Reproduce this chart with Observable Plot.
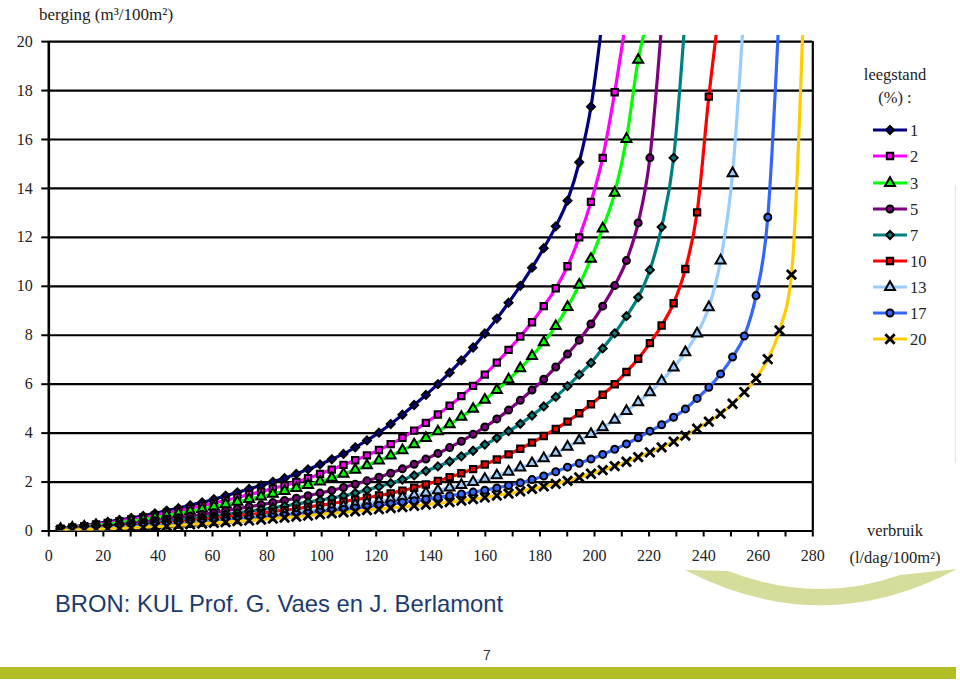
<!DOCTYPE html>
<html>
<head>
<meta charset="utf-8">
<script src="https://cdn.jsdelivr.net/npm/d3@7"></script>
<script src="https://cdn.jsdelivr.net/npm/@observablehq/plot@0.6"></script>
<style>
  html, body { margin: 0; padding: 0; background: #fff; }
  #chart { position: relative; width: 960px; height: 681px; overflow: hidden; }
</style>
</head>
<body>
<div id="chart"></div>
<script>
// ---- data ----
// shared x positions of the markers (verbruik, l/dag/100m2)
const verbruik = [4.3, 8.6, 13.0, 17.3, 21.6, 25.9, 30.2, 34.6, 38.9, 43.2, 47.5, 51.8, 56.2, 60.5, 64.8, 69.1, 73.4, 77.8, 82.1, 86.4, 90.7, 95.0, 99.4, 103.7, 108.0, 112.3, 116.6, 121.0, 125.3, 129.6, 133.9, 138.2, 142.6, 146.9, 151.2, 155.5, 159.8, 164.2, 168.5, 172.8, 177.1, 181.4, 185.8, 190.1, 194.4, 198.7, 203.0, 207.4, 211.7, 216.0, 220.3, 224.6, 229.0, 233.3, 237.6, 241.9, 246.2, 250.6, 254.9, 259.2, 263.5, 267.8, 272.2, 276.5];

// berging (m3/100m2) per leegstand series
const berging1 = [0.10, 0.17, 0.23, 0.30, 0.37, 0.45, 0.53, 0.62, 0.72, 0.83, 0.93, 1.05, 1.17, 1.30, 1.44, 1.58, 1.72, 1.86, 2.01, 2.16, 2.33, 2.52, 2.72, 2.93, 3.15, 3.42, 3.70, 4.02, 4.37, 4.75, 5.15, 5.56, 6.00, 6.47, 6.97, 7.50, 8.07, 8.68, 9.33, 10.02, 10.76, 11.56, 12.45, 13.50, 15.07, 17.34, 21.0];
const berging2 = [0.09, 0.15, 0.20, 0.27, 0.33, 0.40, 0.47, 0.55, 0.64, 0.74, 0.83, 0.93, 1.03, 1.14, 1.25, 1.37, 1.49, 1.61, 1.73, 1.86, 2.00, 2.16, 2.33, 2.51, 2.70, 2.89, 3.09, 3.31, 3.55, 3.81, 4.10, 4.42, 4.76, 5.12, 5.51, 5.93, 6.39, 6.88, 7.40, 7.95, 8.53, 9.19, 9.92, 10.82, 12.00, 13.45, 15.25, 17.93, 21.0];
const berging3 = [0.08, 0.13, 0.17, 0.23, 0.28, 0.34, 0.40, 0.47, 0.55, 0.63, 0.71, 0.80, 0.89, 0.99, 1.09, 1.19, 1.30, 1.41, 1.52, 1.63, 1.75, 1.88, 2.02, 2.17, 2.33, 2.50, 2.68, 2.88, 3.08, 3.30, 3.54, 3.80, 4.07, 4.36, 4.66, 4.99, 5.36, 5.76, 6.19, 6.65, 7.15, 7.71, 8.37, 9.15, 10.06, 11.12, 12.36, 13.82, 16.02, 19.25, 21.2];
const berging5 = [0.06, 0.10, 0.13, 0.17, 0.21, 0.26, 0.31, 0.36, 0.42, 0.48, 0.54, 0.61, 0.68, 0.75, 0.83, 0.91, 0.99, 1.07, 1.16, 1.25, 1.34, 1.44, 1.55, 1.66, 1.78, 1.91, 2.05, 2.20, 2.36, 2.54, 2.73, 2.94, 3.17, 3.41, 3.67, 3.95, 4.25, 4.58, 4.94, 5.34, 5.76, 6.20, 6.70, 7.23, 7.80, 8.46, 9.19, 10.03, 11.05, 12.59, 15.25, 20.7];
const berging7 = [0.05, 0.08, 0.11, 0.14, 0.17, 0.21, 0.25, 0.29, 0.34, 0.39, 0.44, 0.49, 0.55, 0.61, 0.68, 0.74, 0.81, 0.88, 0.95, 1.02, 1.10, 1.18, 1.26, 1.35, 1.44, 1.55, 1.68, 1.81, 1.95, 2.10, 2.27, 2.45, 2.64, 2.84, 3.05, 3.28, 3.53, 3.80, 4.08, 4.38, 4.72, 5.09, 5.48, 5.92, 6.39, 6.87, 7.46, 8.08, 8.78, 9.55, 10.67, 12.42, 15.25, 21.1];
const berging10 = [0.04, 0.07, 0.09, 0.12, 0.14, 0.18, 0.21, 0.24, 0.28, 0.32, 0.36, 0.41, 0.46, 0.51, 0.56, 0.62, 0.67, 0.73, 0.79, 0.85, 0.91, 0.98, 1.05, 1.12, 1.20, 1.28, 1.36, 1.45, 1.54, 1.65, 1.77, 1.90, 2.05, 2.20, 2.36, 2.53, 2.72, 2.92, 3.13, 3.36, 3.61, 3.88, 4.17, 4.47, 4.81, 5.18, 5.57, 6.00, 6.50, 7.04, 7.68, 8.40, 9.31, 10.71, 13.02, 17.75, 21.7];
const berging13 = [0.03, 0.05, 0.07, 0.10, 0.12, 0.15, 0.17, 0.20, 0.23, 0.27, 0.30, 0.34, 0.38, 0.42, 0.47, 0.51, 0.56, 0.61, 0.66, 0.71, 0.77, 0.82, 0.88, 0.94, 1.00, 1.07, 1.14, 1.21, 1.29, 1.37, 1.46, 1.56, 1.66, 1.77, 1.88, 2.00, 2.13, 2.27, 2.42, 2.59, 2.77, 2.97, 3.19, 3.44, 3.70, 3.96, 4.23, 4.54, 4.90, 5.26, 5.67, 6.13, 6.68, 7.30, 8.07, 9.14, 11.05, 14.62, 21.5];
const berging17 = [0.03, 0.05, 0.06, 0.08, 0.10, 0.13, 0.15, 0.18, 0.21, 0.24, 0.27, 0.30, 0.34, 0.38, 0.42, 0.46, 0.50, 0.54, 0.58, 0.63, 0.68, 0.73, 0.78, 0.83, 0.88, 0.94, 0.99, 1.05, 1.11, 1.17, 1.24, 1.30, 1.37, 1.44, 1.51, 1.59, 1.67, 1.76, 1.86, 1.97, 2.10, 2.25, 2.42, 2.61, 2.77, 2.94, 3.13, 3.34, 3.56, 3.81, 4.08, 4.34, 4.65, 4.99, 5.42, 5.87, 6.42, 7.11, 7.97, 9.62, 12.82, 21.5];
const berging20 = [0.02, 0.04, 0.05, 0.07, 0.09, 0.11, 0.13, 0.15, 0.18, 0.20, 0.23, 0.27, 0.30, 0.33, 0.36, 0.40, 0.43, 0.47, 0.51, 0.55, 0.59, 0.63, 0.68, 0.72, 0.76, 0.80, 0.85, 0.89, 0.94, 0.98, 1.03, 1.08, 1.13, 1.18, 1.24, 1.30, 1.37, 1.45, 1.53, 1.62, 1.72, 1.82, 1.93, 2.05, 2.19, 2.34, 2.49, 2.65, 2.83, 3.02, 3.21, 3.42, 3.65, 3.90, 4.18, 4.47, 4.80, 5.20, 5.68, 6.24, 7.02, 8.20, 10.48, 21.0];

const leegstand = ["1", "2", "3", "5", "7", "10", "13", "17", "20"];
const seriesValues = [berging1, berging2, berging3, berging5, berging7, berging10, berging13, berging17, berging20];
const yTicks = [0, 2, 4, 6, 8, 10, 12, 14, 16, 18, 20];
const xTicks = [0, 10, 20, 30, 40, 50, 60, 70, 80, 90, 100, 110, 120, 130, 140, 150, 160, 170, 180, 190, 200, 210, 220, 230, 240, 250, 260, 270, 280];
const xLabels = [0, 20, 40, 60, 80, 100, 120, 140, 160, 180, 200, 220, 240, 260, 280];

// ---- styles ----
const lineColors = ["#000080", "#ff00ff", "#00ff00", "#800080", "#008080", "#ff0000", "#99ccff", "#3366ff", "#ffcc00"];
const symbols = ["diamond2", "square", "triangle", "circle", "diamond2", "square", "triangle", "circle", "times"];
const markerFill = ["#000080", "#ff00ff", "#00ff00", "#800080", "#008080", "#ff0000", "#99ccff", "#3366ff", "none"];
const markerR = [3.6, 3.6, 3.7, 3.5, 3.6, 3.6, 3.7, 3.5, 4.3];

const W = 960, H = 681;
const mL = 48.3, mR = 147.7, mT = 35, mB = 150.5;
const serif = "'Liberation Serif', 'Times New Roman', serif";

const marks = [
  Plot.ruleY(yTicks, {stroke: "#000", strokeWidth: 2.2}),
  Plot.ruleX([280], {y1: 0, y2: 20, stroke: "#000", strokeWidth: 2.2}),
  Plot.axisX({ticks: xTicks, tickSize: 6, tickPadding: 13, strokeWidth: 2, stroke: "#000", label: null,
              tickFormat: d => xLabels.includes(d) ? String(d) : "", fill: "#222"}),
  Plot.axisY({ticks: yTicks, tickSize: 7, tickPadding: 9, strokeWidth: 2, stroke: "#000", fill: "#222", label: null})
];

seriesValues.forEach((vals, i) => {
  const data = vals.map((v, k) => ({x: verbruik[k], y: v}));
  marks.push(Plot.line(data, {x: "x", y: "y", stroke: lineColors[i], strokeWidth: 3.2, curve: "monotone-x", clip: true}));
  marks.push(Plot.dot(data, {
    x: "x", y: "y", symbol: () => symbols[i], r: markerR[i],
    fill: markerFill[i], stroke: "#000", strokeWidth: i === 8 ? 2.8 : 2, clip: true
  }));
});
marks.push(Plot.ruleX([0], {y1: 0, y2: 20, stroke: "#000", strokeWidth: 2.6}));

const chart = Plot.plot({
  width: W, height: H,
  marginLeft: mL, marginRight: mR, marginTop: mT, marginBottom: mB,
  x: {domain: [0, 280], label: null},
  y: {domain: [0, 20.25], label: null},
  symbol: {type: "identity"},
  style: {fontFamily: serif, fontSize: "16px", color: "#000", background: "#fff"},
  marks
});
document.getElementById("chart").appendChild(chart);

// ---- annotations, legend and slide decoration ----
const svg = d3.select(chart);
const txt = (x, y, s, opts = {}) => svg.append("text")
  .attr("x", x).attr("y", y)
  .attr("text-anchor", opts.anchor || "start")
  .attr("font-family", opts.family || serif)
  .attr("font-size", opts.size || 16.5)
  .attr("fill", opts.fill || "#222")
  .text(s);

txt(39, 20, "berging (m³/100m²)", {size: 17});
txt(895, 80, "leegstand", {anchor: "middle"});
txt(895, 103, "(%) :", {anchor: "middle"});

const legY = [130, 156, 183, 209, 235, 261, 287, 313, 339];
const d3sym = {diamond2: d3.symbolDiamond2 || d3.symbolDiamond, square: d3.symbolSquare, triangle: d3.symbolTriangle,
               circle: d3.symbolCircle, times: d3.symbolTimes || d3.symbolCross};
leegstand.forEach((name, i) => {
  const g = svg.append("g");
  g.append("line").attr("x1", 873).attr("x2", 907).attr("y1", legY[i]).attr("y2", legY[i])
    .attr("stroke", lineColors[i]).attr("stroke-width", 3.2);
  g.append("path")
    .attr("d", d3.symbol(d3sym[symbols[i]], Math.PI * markerR[i] * markerR[i])())
    .attr("transform", `translate(890,${legY[i]})`)
    .attr("fill", markerFill[i]).attr("stroke", "#000").attr("stroke-width", i === 8 ? 2.8 : 2);
  txt(910, legY[i] + 6, name);
});

txt(895, 536, "verbruik", {anchor: "middle"});
txt(895, 563, "(l/dag/100m²)", {anchor: "middle"});

// decorative swoosh and bar of the slide
svg.insert("path", ":first-child")
  .attr("d", "M685,570 L728,571 Q815,605 900,575 L957,569 Q822,641 685,570 Z")
  .attr("fill", "#d6dc9a");
svg.append("rect").attr("x", 0).attr("y", 667).attr("width", 956).attr("height", 12).attr("fill", "#b3bd26");
svg.append("line").attr("x1", 955.5).attr("x2", 955.5).attr("y1", 185).attr("y2", 463)
  .attr("stroke", "#e2e2e2").attr("stroke-width", 1);

txt(55, 612, "BRON: KUL Prof. G. Vaes en J. Berlamont",
    {family: "'Liberation Sans', Arial, sans-serif", size: 24, fill: "#1c3a72"})
  .attr("textLength", 448).attr("lengthAdjust", "spacingAndGlyphs");
txt(487, 660, "7", {anchor: "middle", family: "'Liberation Sans', Arial, sans-serif", size: 14, fill: "#333"});
</script>
</body>
</html>
